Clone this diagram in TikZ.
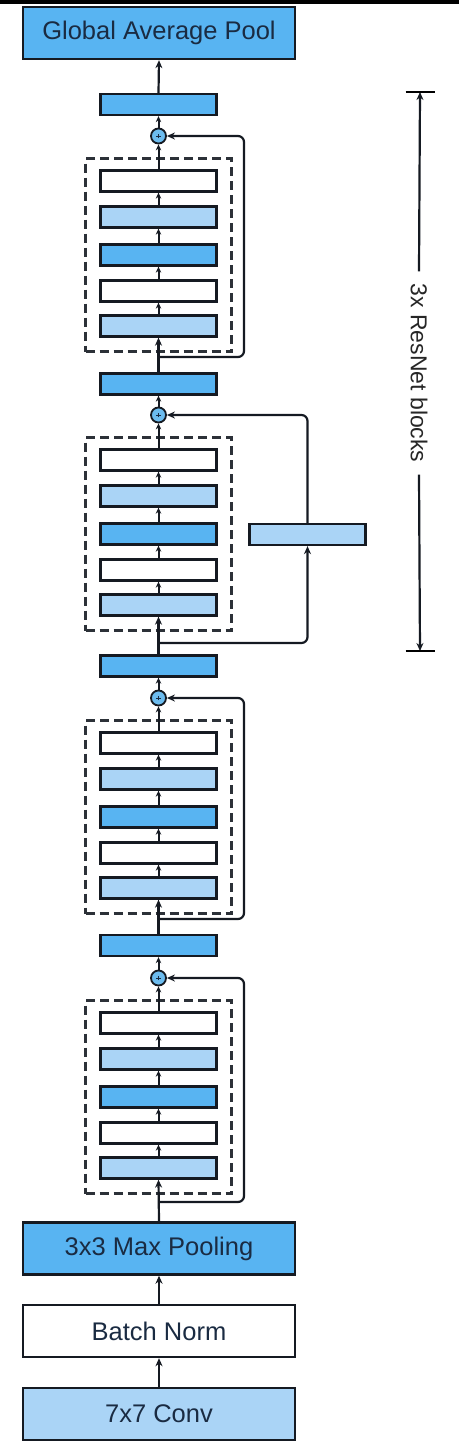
\documentclass[tikz,border=0pt]{standalone}
\usepackage{fontspec}
\setmainfont{Liberation Sans}
\usetikzlibrary{arrows.meta,calc}
\definecolor{midb}{HTML}{58B4F2}
\definecolor{lightb}{HTML}{AAD4F6}
\definecolor{linec}{HTML}{151A22}
\definecolor{txtc}{HTML}{1A2B42}
\definecolor{plusc}{HTML}{6CBCEF}
\tikzset{
  x=1pt, y=-1pt,
  lay/.style={draw=linec, line width=2.3pt, minimum width=116pt, minimum height=21pt, inner sep=0pt},
  laywhite/.style={lay, fill=white},
  laylight/.style={lay, fill=lightb},
  laymid/.style={lay, fill=midb},
  big/.style={draw=linec, line width=2.4pt, minimum width=272pt, minimum height=52pt, inner sep=0pt,
    text=txtc, font=\fontsize{25.5}{30}\selectfont},
  dashbox/.style={draw=linec!90, line width=2.3pt, dash pattern=on 9pt off 5pt, minimum width=146pt, minimum height=193pt, inner sep=0pt},
  plusnode/.style={circle, draw=linec, line width=1.8pt, fill=plusc, minimum size=15pt, inner sep=0pt,
    path picture={\draw[txtc, line width=0.9pt] ([xshift=-2.4pt]path picture bounding box.center) -- ([xshift=2.4pt]path picture bounding box.center)
      ([yshift=-2.4pt]path picture bounding box.center) -- ([yshift=2.4pt]path picture bounding box.center);}},
  arr/.style={draw=linec, line width=2.2pt, -{Stealth[length=8pt,width=7pt]}},
  sarr/.style={draw=linec, line width=2pt, -{Stealth[length=6pt,width=5.5pt]}},
  skip/.style={arr, rounded corners=6pt},
  bar/.style={draw=black, line width=2.4pt},
}
\begin{document}
\begin{tikzpicture}
\useasboundingbox (0,0) rectangle (459,1443);
\fill[black] (0,0) rectangle (459,3.5);

% big boxes
\node[big, fill=midb] (gap) at (159,33) {Global Average Pool};
\node[big, fill=midb] (mp) at (159,1248.5) {3x3 Max Pooling};
\node[big, fill=white] (bn) at (159,1331) {Batch Norm};
\node[big, fill=lightb] (conv) at (159,1414) {7x7 Conv};

% transition boxes
\node[laymid] (t0) at (158.5,104.5) {};
\node[laymid] (t1) at (158.5,384) {};
\node[laymid] (t2) at (158.5,666) {};
\node[laymid] (t3) at (158.5,945.5) {};

% projection box
\node[laylight] (proj) at (307.5,534.5) {};

% blocks
\foreach \b/\p/\s in {1/136/357, 2/415/643, 3/698/919, 4/978/1202}{
  \node[dashbox] (d\b) at (158.5,\p+119) {};
  \node[laywhite] (b\b w1) at (158.5,\p+45) {};
  \node[laylight] (b\b w2) at (158.5,\p+81) {};
  \node[laymid]   (b\b w3) at (158.5,\p+119) {};
  \node[laywhite] (b\b w4) at (158.5,\p+155) {};
  \node[laylight] (b\b w5) at (158.5,\p+190) {};
  \node[plusnode] (p\b) at (158.5,\p) {};
  \coordinate (s\b) at (158.5,\s);
  \draw[sarr] (b\b w5.north) -- (b\b w4.south);
  \draw[sarr] (b\b w4.north) -- (b\b w3.south);
  \draw[sarr] (b\b w3.north) -- (b\b w2.south);
  \draw[sarr] (b\b w2.north) -- (b\b w1.south);
  \draw[sarr] (b\b w1.north) -- (p\b.south);
}

% main chain
\draw[arr] (conv.north) -- (bn.south);
\draw[arr] (bn.north) -- (mp.south);
\draw[arr] (mp.north) -- (b4w5.south);
\draw[sarr] (p4.north) -- (t3.south);
\draw[arr] (t3.north) -- (b3w5.south);
\draw[sarr] (p3.north) -- (t2.south);
\draw[arr] (t2.north) -- (b2w5.south);
\draw[sarr] (p2.north) -- (t1.south);
\draw[arr] (t1.north) -- (b1w5.south);
\draw[sarr] (p1.north) -- (t0.south);
\draw[arr] (t0.north) -- (gap.south);

% skip connections
\draw[skip] (s1) -| ([xshift=85.5pt]p1.center) -- (p1.east);
\draw[skip] (s3) -| ([xshift=85.5pt]p3.center) -- (p3.east);
\draw[skip] (s4) -| ([xshift=85.5pt]p4.center) -- (p4.east);
\draw[skip] (s2) -| (proj.south);
\draw[skip] (proj.north) |- (p2.east);

% bracket
\coordinate (bt) at (420,92);
\coordinate (bb) at (420,651);
\node[rotate=-90, font=\fontsize{23}{28}\selectfont, text=black!85, inner xsep=12pt, inner ysep=0pt] (lbl) at (419,373) {3x ResNet blocks};
\draw[arr] (lbl.west) -- (bt);
\draw[arr] (lbl.east) -- (bb);
\draw[bar] ([xshift=-14.5pt]bt) -- ([xshift=14.5pt]bt);
\draw[bar] ([xshift=-14.5pt]bb) -- ([xshift=14.5pt]bb);
\end{tikzpicture}
\end{document}
